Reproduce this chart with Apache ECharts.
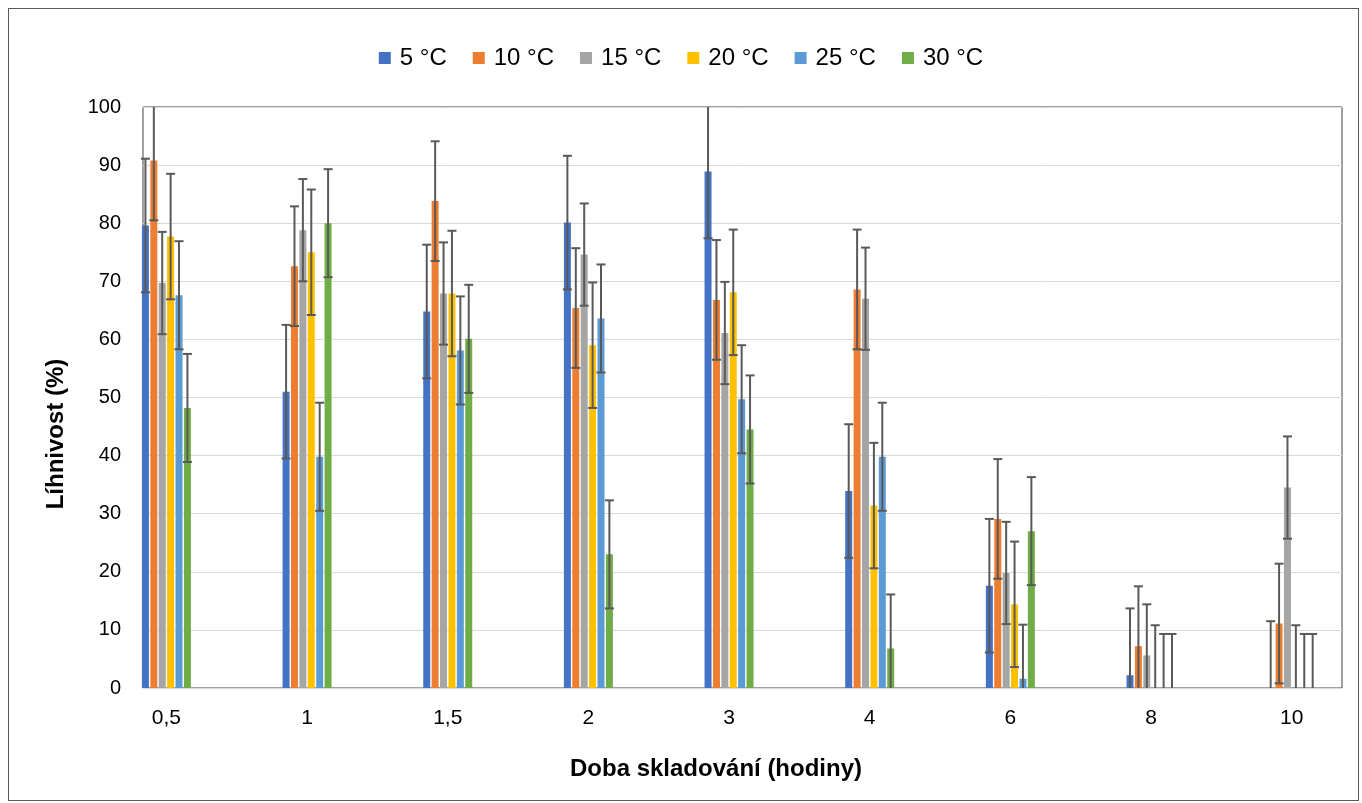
<!DOCTYPE html>
<html>
<head>
<meta charset="utf-8">
<script src="https://cdn.jsdelivr.net/npm/echarts@6/dist/echarts.min.js"></script>
<style>
  html, body { margin: 0; padding: 0; background: #ffffff; }
  #chart { position: absolute; left: 0; top: 0; width: 1362px; height: 803px; }
  #frame { position: absolute; left: 8px; top: 8px; width: 1349px; height: 791px;
           border: 1px solid #595959; pointer-events: none; }
</style>
</head>
<body>
<div id="chart"></div>
<div id="frame"></div>
<script>
// Storage time (hours) on the category axis
const categories = ['0,5', '1', '1,5', '2', '3', '4', '6', '8', '10'];
const seriesNames = ['5 °C', '10 °C', '15 °C', '20 °C', '25 °C', '30 °C'];
const seriesColors = ['#4472C4', '#ED7D31', '#A5A5A5', '#FFC000', '#5B9BD5', '#70AD47'];

// Hatchability (%) per storage temperature
const temp5  = [79.6, 51.0, 64.8, 80.1, 88.9, 33.9, 17.6, 2.2, 0];
const temp10 = [90.8, 72.6, 83.8, 65.4, 66.8, 68.6, 29.1, 7.2, 11.1];
const temp15 = [69.7, 78.8, 67.9, 74.6, 61.1, 67.0, 19.8, 5.6, 34.5];
const temp20 = [77.7, 75.0, 67.9, 59.0, 68.1, 31.4, 14.4, 0, 0];
const temp25 = [67.6, 39.8, 58.1, 63.6, 49.7, 39.8, 1.6, 0, 0];
const temp30 = [48.2, 80.0, 60.1, 23.0, 44.5, 6.8, 27.0, 0, 0];

// Error bar half-length (fixed value per series)
const errorValues = [11.5, 10.3, 8.8, 10.8, 9.3, 9.3];

// Y axis ticks
const yMin = 0, yMax = 100, yStep = 10;

const seriesValues = [temp5, temp10, temp15, temp20, temp25, temp30];

const FONT = "'Liberation Sans', Arial, sans-serif";
const BAR_WIDTH = 7;
const BAR_GAP = 0.2;
const BAR_PITCH = BAR_WIDTH * (1 + BAR_GAP);
const CAP = 4.5;

function errorBarRenderer(slot, count) {
  return function (params, api) {
    const idx = api.value(0);
    const v = api.value(1);
    const e = api.value(2);
    const base = api.coord([idx, v]);
    const x = base[0] + (slot - (count - 1) / 2) * BAR_PITCH;
    const yTop = api.coord([idx, v + e])[1];
    const yBot = api.coord([idx, v - e])[1];
    const style = { stroke: '#595959', lineWidth: 2 };
    return {
      type: 'group',
      children: [
        { type: 'line', shape: { x1: x, y1: yTop, x2: x, y2: yBot }, style: style },
        { type: 'line', shape: { x1: x - CAP, y1: yTop, x2: x + CAP, y2: yTop }, style: style },
        { type: 'line', shape: { x1: x - CAP, y1: yBot, x2: x + CAP, y2: yBot }, style: style }
      ]
    };
  };
}

const barSeries = seriesNames.map(function (name, i) {
  return {
    name: name,
    type: 'bar',
    xAxisIndex: 1,
    yAxisIndex: 1,
    data: seriesValues[i],
    barWidth: BAR_WIDTH,
    barGap: (BAR_GAP * 100) + '%',
    itemStyle: { color: seriesColors[i] },
    emphasis: { disabled: true },
    z: 2
  };
});

const errorSeries = seriesNames.map(function (name, i) {
  return {
    name: name + ' error',
    type: 'custom',
    xAxisIndex: 1,
    yAxisIndex: 1,
    clip: true,
    renderItem: errorBarRenderer(i, seriesNames.length),
    data: seriesValues[i].map(function (v, k) { return [k, v, errorValues[i]]; }),
    silent: true,
    z: 3
  };
});

const chart = echarts.init(document.getElementById('chart'), null, { renderer: 'canvas' });

chart.setOption({
  animation: false,
  backgroundColor: '#ffffff',
  textStyle: { fontFamily: FONT, color: '#000000' },
  legend: {
    data: seriesNames,
    top: 41,
    left: 'center',
    icon: 'rect',
    itemWidth: 12,
    itemHeight: 12,
    itemGap: 26,
    textStyle: { fontFamily: FONT, fontSize: 24, color: '#000000', padding: [0, 0, 0, 4] }
  },
  grid: [
    { left: 143, top: 107, width: 1199, height: 581, show: true,
      borderColor: '#404040', borderWidth: 1, backgroundColor: 'transparent' },
    { left: 96.1, right: -27.9, top: 107, height: 581 }
  ],
  xAxis: [
    { gridIndex: 0, type: 'value', min: 0, max: 1,
      axisLine: { show: true, lineStyle: { color: '#d9d9d9', width: 1 } },
      axisTick: { show: false }, axisLabel: { show: false }, splitLine: { show: false } },
    { gridIndex: 1, type: 'category', data: categories,
      axisLine: { show: false }, axisTick: { show: false },
      axisLabel: { fontFamily: FONT, fontSize: 21, color: '#000000', margin: 20 } }
  ],
  yAxis: [
    { gridIndex: 0, type: 'value', min: yMin, max: yMax, interval: yStep,
      axisLine: { show: false }, axisTick: { show: false },
      axisLabel: { fontFamily: FONT, fontSize: 20, color: '#000000', margin: 22 },
      splitLine: { lineStyle: { color: '#d9d9d9', width: 1 } } },
    { gridIndex: 1, type: 'value', min: yMin, max: yMax, interval: yStep, show: false,
      splitLine: { show: false } }
  ],
  graphic: [
    { type: 'text', x: 56, y: 434, rotation: Math.PI / 2,
      style: { text: 'Líhnivost (%)', fontFamily: FONT, fontSize: 24, fontWeight: 'bold',
               fill: '#000000', align: 'center', verticalAlign: 'middle' } },
    { type: 'text', x: 716, y: 769,
      style: { text: 'Doba skladování (hodiny)', fontFamily: FONT, fontSize: 24, fontWeight: 'bold',
               fill: '#000000', align: 'center', verticalAlign: 'middle' } }
  ],
  series: barSeries.concat(errorSeries)
});
</script>
</body>
</html>
